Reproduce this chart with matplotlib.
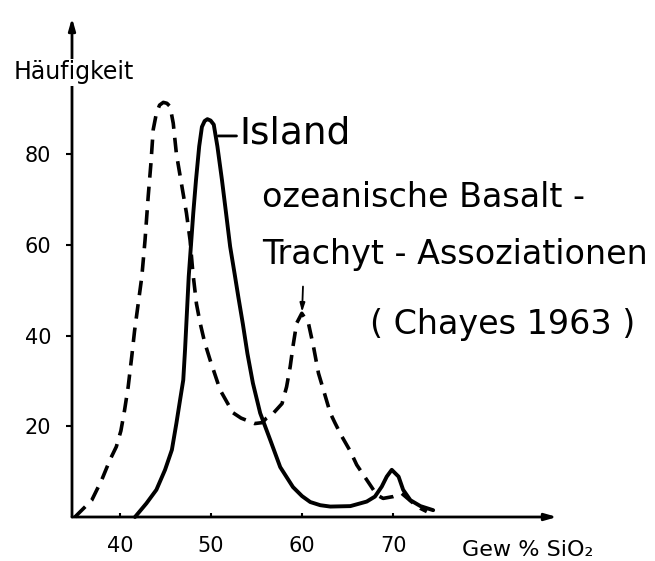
import matplotlib.pyplot as plt

# Island (solid curve)
island_x = [41.65, 42.9, 44.0, 44.95, 45.7, 46.2, 46.6, 46.95, 47.15, 47.35, 47.55, 47.8,
            48.05, 48.35, 48.7, 49.0, 49.3, 49.6, 49.95, 50.3, 50.7, 51.2, 51.65, 52.1,
            52.6, 53.0, 53.5, 54.0, 54.6, 55.4, 56.5, 57.6, 59.0, 60.0, 60.9, 62.0,
            63.1, 65.3, 67.1, 68.0, 68.75, 69.3, 69.85, 70.6, 71.1, 71.9, 73.0, 74.4]
island_y = [0.0, 3.0, 6.0, 10.4, 14.8, 20.7, 25.8, 30.2, 37.0, 45.0, 53.0, 60.0,
            67.0, 74.3, 81.7, 86.0, 87.3, 87.7, 87.4, 86.5, 81.7, 74.3, 67.0, 59.6,
            53.5, 48.5, 42.5, 36.0, 29.5, 22.9, 17.0, 11.0, 6.6, 4.6, 3.3, 2.6,
            2.3, 2.4, 3.4, 4.5, 6.7, 8.9, 10.4, 8.9, 6.0, 3.7, 2.4, 1.5]

# ozeanische Basalt-Trachyt-Assoziationen (dashed curve)
ocean_x = [35.05, 36.9, 38.0, 38.9, 39.6, 40.1, 40.5, 40.9, 41.3, 41.6, 42.0, 42.4,
           42.75, 43.1, 43.4, 43.65, 44.0, 44.35, 44.76, 45.15, 45.5, 45.85, 46.2, 46.8,
           47.3, 47.7, 48.0, 48.4, 48.8, 49.3, 49.9, 51.0, 52.4, 53.3, 54.8, 55.6,
           56.1, 56.85, 57.8, 58.3, 58.7, 59.0, 59.4, 59.97, 60.7, 61.25, 61.8, 62.35,
           63.1, 63.6, 64.3, 65.3, 66.0, 67.1, 68.2, 68.9, 70.0, 70.95, 72.0, 73.0, 73.7]
ocean_y = [0.0, 3.7, 8.2, 12.6, 15.5, 19.0, 23.5, 28.7, 35.5, 41.0, 47.0, 53.0,
           61.0, 70.7, 78.0, 85.4, 89.0, 90.8, 91.4, 91.2, 90.5, 86.8, 80.0, 72.9,
           67.0, 61.0, 54.0, 47.0, 42.8, 38.5, 34.6, 28.0, 23.0, 21.8, 20.6, 20.8,
           21.8, 22.9, 25.0, 28.7, 33.2, 37.6, 42.7, 44.9, 42.7, 37.6, 31.7, 28.0,
           22.9, 20.8, 18.0, 14.5, 11.5, 8.2, 4.9, 4.1, 4.5, 5.2, 3.4, 1.9, 1.2]

xticks = [40, 50, 60, 70]
yticks = [20, 40, 60, 80]

plt.rcParams['font.family'] = ['DejaVu Sans']
plt.rcParams['lines.scale_dashes'] = False

fig = plt.figure(figsize=(6.55, 5.61), dpi=100)
ax = fig.add_axes([72/655, 44/561, (557-72)/655, (517-18)/561])
ax.set_xlim(34.73, 88.0)
ax.set_ylim(0, 110)

ax.plot(island_x, island_y, color='black', lw=2.8, solid_capstyle='round',
        solid_joinstyle='round', clip_on=False)
ax.plot(ocean_x, ocean_y, color='black', lw=2.6, dashes=(10.5, 6.5),
        dash_capstyle='butt', dash_joinstyle='round', clip_on=False)

# axes drawn as arrows
for s in ax.spines.values():
    s.set_visible(False)
ax.annotate('', xy=(1, 0), xytext=(0, 0), xycoords='axes fraction',
            arrowprops=dict(arrowstyle='-|>,head_length=0.7,head_width=0.2',
                            lw=2, color='black', shrinkA=0, shrinkB=0))
ax.annotate('', xy=(0, 1), xytext=(0, 0), xycoords='axes fraction',
            arrowprops=dict(arrowstyle='-|>,head_length=0.7,head_width=0.2',
                            lw=2, color='black', shrinkA=0, shrinkB=0))

ax.set_xticks(xticks)
ax.set_yticks(yticks)
ax.tick_params(axis='x', direction='in', length=3, width=1.5, pad=14, labelsize=15)
ax.tick_params(axis='y', direction='out', length=4, width=1.5, pad=11, labelsize=15)

ax.text(34.9, 98, 'Häufigkeit', fontsize=17, ha='center', va='center',
        bbox=dict(facecolor='white', edgecolor='none', pad=1), zorder=5, clip_on=False)
ax.text(77.6, -7.3, 'Gew % SiO₂', fontsize=16, ha='left', va='center', clip_on=False)

# labels on the curves
ax.annotate('', xy=(50.8, 84), xytext=(52.8, 84),
            arrowprops=dict(arrowstyle='-', lw=2, color='black', shrinkA=0, shrinkB=0))
ax.text(53.1, 84.5, 'Island', fontsize=27, ha='left', va='center')
ax.text(55.6, 70.5, 'ozeanische Basalt -', fontsize=24, ha='left', va='center')
ax.text(55.6, 57.8, 'Trachyt - Assoziationen', fontsize=24, ha='left', va='center')
ax.text(82.0, 42.4, '( Chayes 1963 )', fontsize=24, ha='center', va='center')
ax.annotate('', xy=(60.0, 45.2), xytext=(60.1, 50.8),
            arrowprops=dict(arrowstyle='-|>,head_length=0.5,head_width=0.15',
                            lw=1.3, color='black', shrinkA=0, shrinkB=0))

fig.savefig('out.png', dpi=100)
